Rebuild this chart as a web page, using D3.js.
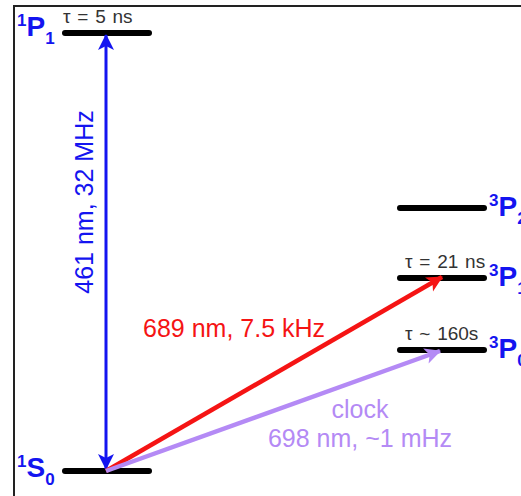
<!DOCTYPE html>
<html><head><meta charset="utf-8">
<script src="https://cdn.jsdelivr.net/npm/d3@7"></script>
<style>body{margin:0;background:#fff}svg{display:block}text{font-family:"Liberation Sans",Arial,sans-serif}</style>
</head><body><div id="c"></div>
<script>
// ---- data ----
const levelNames   = ["1S0", "3P0", "3P1", "3P2", "1P1"];
const levelMult    = ["1", "3", "3", "3", "1"];
const levelLetter  = ["S", "P", "P", "P", "P"];
const levelJ       = ["0", "0", "1", "2", "1"];
const levelColumn  = ["singlet", "triplet", "triplet", "triplet", "singlet"];
const levelHeight  = [0, 121, 193, 263, 438];   // schematic (not to scale)
const lifetimes    = ["", "τ ~ 160s", "τ = 21 ns", "", "τ = 5 ns"];
const columns      = ["singlet", "triplet"];

const transFrom    = ["1S0", "1S0", "1S0"];
const transTo      = ["1P1", "3P1", "3P0"];
const transLabel1  = ["461 nm, 32 MHz", "689 nm, 7.5 kHz", "clock"];
const transLabel2  = ["", "", "698 nm, ~1 mHz"];
const transColor   = ["#1414f0", "#f51414", "#b48af5"];
const transBoth    = [true, false, false];

// ---- layout ----
const W = 521, H = 496;
const svg = d3.select("#c").append("svg").attr("width", W).attr("height", H);

// frame
svg.append("path").attr("d", `M14,${H} L14,6 L${W},6`).attr("fill","none")
  .attr("stroke","#222").attr("stroke-width",2);

const x = d3.scalePoint().domain(columns).range([107, 442]);
const y = d3.scaleLinear().domain([0, 438]).range([471, 33]);
const halfBar = 42;

const levels = levelNames.map((n,i)=>({name:n, mult:levelMult[i], L:levelLetter[i], J:levelJ[i],
  col:levelColumn[i], h:levelHeight[i], tau:lifetimes[i]}));
const byName = Object.fromEntries(levels.map(d=>[d.name,d]));

// level bars
svg.selectAll("line.level").data(levels).join("line").attr("class","level")
  .attr("x1", d=>x(d.col)-halfBar).attr("x2", d=>x(d.col)+halfBar)
  .attr("y1", d=>y(d.h)).attr("y2", d=>y(d.h))
  .attr("stroke","#000").attr("stroke-width",6).attr("stroke-linecap","round");

// lifetimes
svg.selectAll("text.tau").data(levels.filter(d=>d.tau)).join("text").attr("class","tau")
  .attr("x", d=> d.col==="singlet" ? x(d.col)-44 : x(d.col)-37)
  .attr("y", d=>y(d.h)-10)
  .style("font-size","19px").style("word-spacing","1.5px").attr("fill","#333").text(d=>d.tau);

// level labels
const lab = svg.selectAll("text.lab").data(levels).join("text").attr("class","lab")
  .attr("x", d=> d.col==="singlet" ? 17 : 489)
  .attr("y", d=> y(d.h) + (d.col==="singlet" ? (d.h===0?6:3) : 8))
  .attr("fill","#1414f0").attr("font-weight","bold");
lab.append("tspan").style("font-size","17px").attr("dy",-10).text(d=>d.mult);
lab.append("tspan").style("font-size","28px").attr("dy",10).text(d=>d.L);
lab.append("tspan").style("font-size","17px").attr("dy",8).text(d=>d.J);

// arrow markers
const defs = svg.append("defs");
transColor.forEach((c,i)=>{
  defs.append("marker").attr("id","ah"+i).attr("viewBox","-16 -9 18 18")
    .attr("refX",0).attr("refY",0).attr("markerWidth",18).attr("markerHeight",18)
    .attr("markerUnits","userSpaceOnUse").attr("orient","auto-start-reverse")
    .append("path").attr("d","M1,0 L-15,-8 L-11,0 L-15,8 Z").attr("fill",c);
});

const startX = 106;
const tipX = [106, 442, 440];
const tipDy = [0, -1, 1];
const trans = transFrom.map((f,i)=>({from:byName[f], to:byName[transTo[i]], c:transColor[i], i}));
svg.selectAll("line.tr").data(trans).join("line").attr("class","tr")
  .attr("x1", startX).attr("y1", d=>y(d.from.h) - (d.i===0?2:0))
  .attr("x2", d=>tipX[d.i]).attr("y2", d=>y(d.to.h) + tipDy[d.i] + (d.i===0?2:0))
  .attr("stroke", d=>d.c).attr("stroke-width", d=>d.i===0?3:4.5)
  .attr("marker-end", d=>`url(#ah${d.i})`)
  .attr("marker-start", d=>transBoth[d.i] ? `url(#ah${d.i})` : null);

// transition labels
svg.append("text").attr("transform","translate(93,202) rotate(-90)").attr("text-anchor","middle")
  .style("font-size","25px").attr("fill",transColor[0]).text(transLabel1[0]);
svg.append("text").attr("x",143).attr("y",337)
  .style("font-size","25px").attr("fill",transColor[1]).text(transLabel1[1]);
svg.append("text").attr("x",360).attr("y",418).attr("text-anchor","middle")
  .style("font-size","25px").attr("fill",transColor[2]).text(transLabel1[2]);
svg.append("text").attr("x",360).attr("y",447).attr("text-anchor","middle")
  .style("font-size","25px").attr("fill",transColor[2]).text(transLabel2[2]);
</script></body></html>
